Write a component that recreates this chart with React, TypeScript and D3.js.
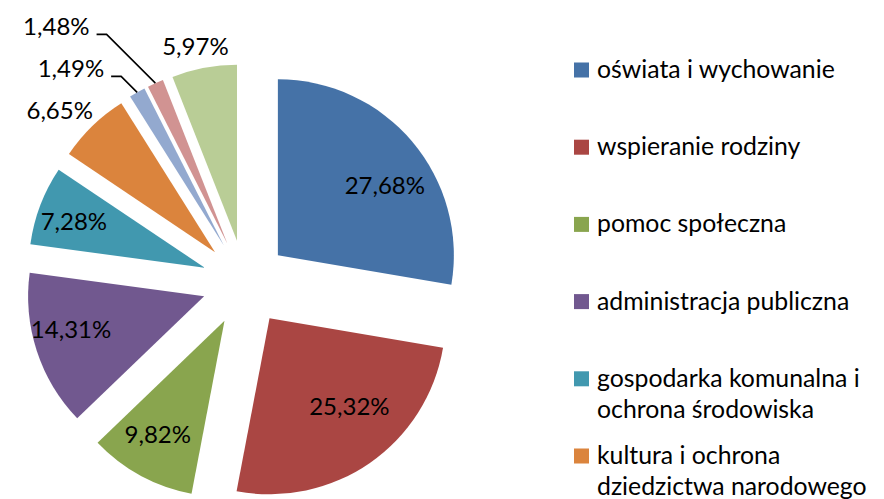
import React from "react";
import * as d3 from "d3";

// slice values (percent), in drawing order clockwise from 12 o'clock
const values = [27.68, 25.32, 9.82, 14.31, 7.28, 6.65, 1.49, 1.48, 5.97];
const colors = ["#4572A7", "#AA4643", "#89A54E", "#71588F", "#4198AF", "#DB843D", "#93A9CF", "#D19392", "#B9CD96"];
// legend entries visible in the picture (rest is cut off below)
const legendItems = [
  ["oświata i wychowanie"],
  ["wspieranie rodziny"],
  ["pomoc społeczna"],
  ["administracja publiczna"],
  ["gospodarka komunalna i", "ochrona środowiska"],
  ["kultura i ochrona", "dziedzictwa narodowego"],
];

const W = 884;
const H = 499;
const cx = 245;
const cy = 283;
const R = 176;
const explode = 43;
const font = "Lato, 'Open Sans', sans-serif";

const fmt = (v: number) => d3.format(".2f")(v).replace(".", ",") + "%";

const App = () => {
  const slices = d3.pie<number>().sort(null).value((d) => d)(values);
  const arcGen = d3.arc<d3.PieArcDatum<number>>().innerRadius(0).outerRadius(R);

  // apex of each exploded slice
  const apex = slices.map((s) => {
    const a = (s.startAngle + s.endAngle) / 2;
    return [cx + explode * Math.sin(a), cy - explode * Math.cos(a)];
  });

  // label layout: inside labels on a flattened ring, small slices outside
  let lastBase = 0;
  const labels = slices.map((s, i) => {
    const a = (s.startAngle + s.endAngle) / 2;
    const [ax, ay] = apex[i];
    const sin = Math.sin(a), cos = Math.cos(a);
    if (s.data >= 7) {
      const ry = s.data < 12 ? 130 : 108;
      return { x: ax + 140 * sin, y: ay - ry * cos + 8, anchor: "middle", line: null as null | string };
    }
    if (s.data >= 2) {
      const px = ax + (R + 12) * sin;
      const py = ay - (R + 12) * cos;
      const x = px + 35 * sin;
      const y = py - 11 * cos + 10;
      lastBase = y;
      return { x, y, anchor: "middle", line: null };
    }
    // tiny slices: stack above previous outside label, leader line
    const sx = ax + R * sin;
    const sy = ay - R * cos;
    const base = lastBase - 42;
    lastBase = base;
    const t = sy - (base - 1);
    const ex = sx - t;
    const ey = sy - t;
    const line = `M${sx},${sy}L${ex},${ey}L${ex - 10},${ey}`;
    return { x: ex - 17, y: base, anchor: "end", line };
  });

  return (
    <div style={{ position: "absolute", left: 0, top: 0 }}>
      <svg width={W} height={H} style={{ display: "block", background: "#fff" }}>
        {slices.map((s, i) => (
          <path
            key={"s" + i}
            d={arcGen(s) as string}
            transform={`translate(${apex[i][0]},${apex[i][1]})`}
            fill={colors[i]}
          />
        ))}
        {labels.map((l, i) => (
          <g key={"l" + i}>
            {l.line && <path d={l.line} fill="none" stroke="#000" strokeWidth={1.6} />}
            <text x={l.x} y={l.y} textAnchor={l.anchor} fontFamily={font} fontSize={24} fill="#000">
              {fmt(values[i])}
            </text>
          </g>
        ))}
        {legendItems.map((lines, i) => {
          const y0 = 70 + 77.2 * i;
          return (
            <g key={"g" + i}>
              <rect x={574} y={y0 - 7.5} width={15} height={15} fill={colors[i]} />
              {lines.map((t, j) => (
                <text key={j} x={597} y={y0 + 8 + j * 31} fontFamily={font} fontSize={24.8} fill="#000">
                  {t}
                </text>
              ))}
            </g>
          );
        })}
      </svg>
    </div>
  );
};

export default App;
